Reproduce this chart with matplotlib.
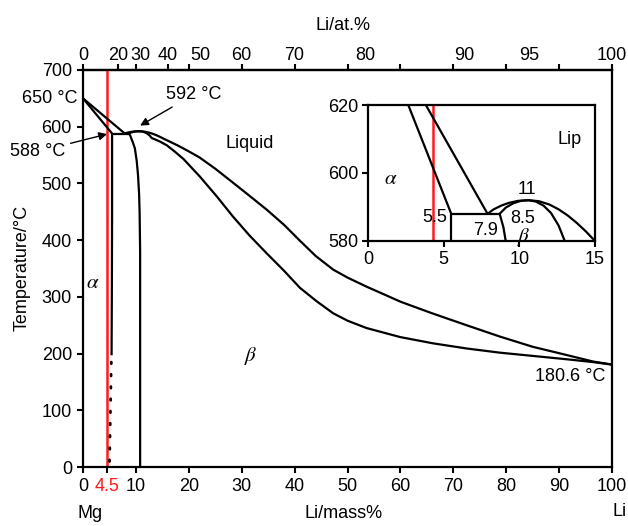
import numpy as np
import matplotlib
matplotlib.use("Agg")
import matplotlib.pyplot as plt

plt.rcParams['font.family'] = ['Liberation Sans', 'DejaVu Sans']
plt.rcParams['mathtext.fontset'] = 'stix'
FS = 13

# ---------------- data (mass% Li, temperature °C) ----------------
alpha_liq_m = [0, 7.9]
alpha_liq_T = [650, 588]
alpha_sol_m = [0, 5.5]
alpha_sol_T = [650, 588]
eut_m = [5.5, 8.7]
eut_T = [588, 588]
alpha_solvus_m = [5.5, 5.5, 5.45, 5.4]
alpha_solvus_T = [588, 450, 300, 197]
alpha_solvus_dot_m = [5.35, 5.0]
alpha_solvus_dot_T = [185, 0]
beta_solvus_m = [8.7, 8.95, 9.1, 9.4, 9.8, 10.15, 10.4, 10.6, 10.7, 10.8, 10.8]
beta_solvus_T = [588, 584, 580, 573, 562, 540, 515, 482, 450, 380, 0]
beta_liq_m = [7.9, 8.3, 8.8, 9.3, 9.9, 10.6, 11.3, 12.0, 12.6, 13.2, 13.8, 14.4, 15.0, 16, 17,
              18, 19, 20, 22, 25, 28.4, 31.5, 34.7, 38, 41, 44, 47.3, 50, 53.6, 57, 60, 66,
              72.5, 78.8, 85, 91.4, 96.4, 100]
beta_liq_T = [588, 589.3, 590.4, 591.2, 591.8, 592, 591.7, 590.7, 589.3, 587.5, 585.3, 582.8, 580,
              575.5, 571, 566.5, 561.5, 556.5, 546, 526, 501, 478, 454, 427, 399, 372, 348, 334,
              318, 304, 291.5, 271, 250, 230, 212, 197.5, 186, 180.6]
beta_sol_m = [8.7, 9.1, 9.6, 10.1, 10.6, 11.1, 11.6, 12.1, 12.6, 13.0, 13.7, 14.5, 15.8, 17.3,
              19, 20.5, 22.1, 25.3, 28.4, 31.5, 34.7, 38, 41, 44.2, 47.3, 50, 53.6, 60, 66.2,
              72.5, 78.8, 85.1, 91.4, 96.4, 100]
beta_sol_T = [588, 589.8, 591.1, 591.8, 592, 591.6, 590.4, 588.2, 584.5, 580, 577.3, 574, 567.5,
              556.5, 543, 528, 512, 477, 441, 408, 377, 346, 316, 292, 271, 258, 245, 229, 218,
              209, 201.6, 195.8, 190, 185, 180.6]
alloy_main = 4.5
alloy_inset = 4.3

bottom_ticks = [0, 4.5, 10, 20, 30, 40, 50, 60, 70, 80, 90, 100]
bottom_labels = ['0', '4.5', '10', '20', '30', '40', '50', '60', '70', '80', '90', '100']
y_ticks = [0, 100, 200, 300, 400, 500, 600, 700]
top_at_labels = [0, 20, 30, 40, 50, 60, 70, 80, 90, 95, 100]
top_minor_at = [20, 40]
top_minor_mass = [0, 10, 20, 30, 40, 50, 60, 70, 80, 90, 100]
inset_xticks = [0, 5, 10, 15]
inset_yticks = [580, 600, 620]

M_LI, M_MG = 6.94, 24.305


def at2mass(a):
    a = np.asarray(a, dtype=float)
    return a * M_LI / (a * M_LI + (100 - a) * M_MG) * 100


def mass2at(m):
    m = np.asarray(m, dtype=float)
    return (m / M_LI) / (m / M_LI + (100 - m) / M_MG) * 100


LW = 1.6

fig = plt.figure(figsize=(6.28, 5.26), dpi=100)
ax = fig.add_axes([83 / 628, 1 - 467 / 526, 529 / 628, 397 / 526])


def draw_curves(a, red_x):
    a.plot([red_x, red_x], [0, 700], color='#ff1a1a', lw=1.8, zorder=1)
    kw = dict(color='black', lw=LW, solid_capstyle='butt', solid_joinstyle='round')
    a.plot(alpha_liq_m, alpha_liq_T, **kw)
    a.plot(alpha_sol_m, alpha_sol_T, **kw)
    a.plot(eut_m, eut_T, **kw)
    a.plot(alpha_solvus_m, alpha_solvus_T, **kw)
    a.plot(beta_solvus_m, beta_solvus_T, **kw)
    a.plot(beta_liq_m, beta_liq_T, **kw)
    a.plot(beta_sol_m, beta_sol_T, **kw)


draw_curves(ax, alloy_main)
ax.plot(alpha_solvus_dot_m, alpha_solvus_dot_T, color='black', lw=2.0,
        linestyle=(0, (0.6, 3.8)), dash_capstyle='round')

ax.set_xlim(0, 100)
ax.set_ylim(0, 700)
ax.set_xticks(bottom_ticks)
ax.set_xticklabels(bottom_labels, fontsize=FS)
ax.get_xticklabels()[1].set_color('#ff1a1a')
ax.set_yticks(y_ticks)
ax.set_yticklabels([str(v) for v in y_ticks], fontsize=FS)
ax.tick_params(direction='out', length=4, width=1.5, pad=4)
for s in ax.spines.values():
    s.set_linewidth(1.6)

# top axis in at.%
sec = ax.secondary_xaxis('top', functions=(mass2at, at2mass))
sec.set_xticks(top_at_labels)
sec.set_xticklabels([str(v) for v in top_at_labels], fontsize=FS)
minor_at = list(mass2at(top_minor_mass)) + top_minor_at
sec.set_xticks(minor_at, minor=True)
sec.xaxis.remove_overlapping_locs = False
sec.tick_params(which='major', length=0, pad=4.5)
sec.tick_params(which='minor', length=4.5, width=1.5, direction='out')
sec.spines['top'].set_linewidth(1.6)

# texts
ax.text(-1, 650, '650 °C', ha='right', va='center', fontsize=FS, clip_on=False)
ax.annotate('588 °C', xy=(4.55, 587), xytext=(-8.6, 556), textcoords='data',
            ha='center', va='center', fontsize=FS, annotation_clip=False,
            arrowprops=dict(arrowstyle='-|>', color='black', lw=1.0,
                            mutation_scale=12, shrinkA=2, shrinkB=0))
ax.annotate('592 °C', xy=(10.8, 602), xytext=(21, 657), textcoords='data',
            ha='center', va='center', fontsize=FS, annotation_clip=False,
            arrowprops=dict(arrowstyle='-|>', color='black', lw=1.0,
                            mutation_scale=12, shrinkA=2, shrinkB=0))
ax.text(31.6, 571, 'Liquid', ha='center', va='center', fontsize=FS)
ax.text(1.8, 325, r'$\alpha$', ha='center', va='center', fontsize=FS + 2)
ax.text(31.8, 196, r'$\beta$', ha='center', va='center', fontsize=FS + 2)
ax.text(98.8, 159, '180.6 °C', ha='right', va='center', fontsize=FS)

fig.text(90 / 628, 1 - 514 / 526, 'Mg', ha='center', va='center', fontsize=FS)
fig.text(344 / 628, 1 - 514 / 526, 'Li/mass%', ha='center', va='center', fontsize=FS)
fig.text(613 / 628, 1 - 512 / 526, 'Li', ha='left', va='center', fontsize=FS)
fig.text(343 / 628, 1 - 25 / 526, 'Li/at.%', ha='center', va='center', fontsize=FS)
fig.text(22 / 628, 1 - 268 / 526, 'Temperature/°C', ha='center', va='center',
         rotation=90, fontsize=FS)

# ---------------- inset ----------------
ins = fig.add_axes([368 / 628, 1 - 241 / 526, 227 / 628, 136 / 526])
draw_curves(ins, alloy_inset)
ins.set_xlim(0, 15)
ins.set_ylim(580, 620)
ins.set_xticks(inset_xticks)
ins.set_xticklabels([str(v) for v in inset_xticks], fontsize=FS)
ins.set_yticks(inset_yticks)
ins.set_yticklabels([str(v) for v in inset_yticks], fontsize=FS)
ins.tick_params(direction='out', length=4, width=1.5, pad=3)
for s in ins.spines.values():
    s.set_linewidth(1.6)
ins.text(1.5, 598.5, r'$\alpha$', ha='center', va='center', fontsize=FS + 2)
ins.text(4.4, 587, '5.5', ha='center', va='center', fontsize=FS)
ins.text(7.8, 583, '7.9', ha='center', va='center', fontsize=FS)
ins.text(10.2, 586.5, '8.5', ha='center', va='center', fontsize=FS)
ins.text(10.3, 581.3, r'$\beta$', ha='center', va='center', fontsize=FS + 2)
ins.text(10.5, 595, '11', ha='center', va='center', fontsize=FS)
ins.text(13.3, 610, 'Lip', ha='center', va='center', fontsize=FS)

fig.savefig('out.png', dpi=100)
